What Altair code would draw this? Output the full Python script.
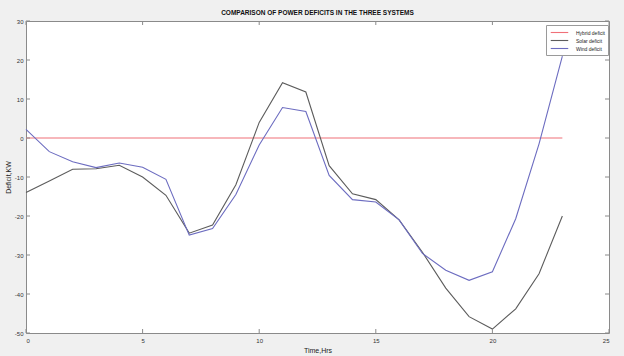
import altair as alt
import pandas as pd

hours = list(range(24))
hybrid = [0] * 24
solar = [-14, -11, -8, -7.9, -7, -10, -14.7, -24.4, -22.3, -12, 4, 14.2, 11.8, -7.1,
         -14.3, -15.8, -21, -29.3, -38.5, -45.8, -49, -43.8, -34.8, -20]
wind = [2.2, -3.5, -6.1, -7.6, -6.4, -7.5, -10.6, -24.9, -23.2, -14.5, -1.8, 7.8, 6.8, -9.6,
        -15.8, -16.4, -21, -29.6, -33.9, -36.5, -34.3, -20.7, -1.5, 21]
series_names = ["Hybrid deficit", "Solar deficit", "Wind deficit"]
series_colors = ["#f07078", "#5c5c5c", "#6c6cc0"]
x_ticks = [0, 5, 10, 15, 20, 25]
y_ticks = [-50, -40, -30, -20, -10, 0, 10, 20, 30]

rows = []
for name, vals in zip(series_names, [hybrid, solar, wind]):
    for h, v in zip(hours, vals):
        rows.append({"hour": h, "value": v, "series": name})
df = pd.DataFrame(rows)

W, H = 583, 312
FONT = "Liberation Sans"

xs = alt.Scale(domain=[0, 25], nice=False)
ys = alt.Scale(domain=[-50, 30], nice=False)

lab = "replace(datum.label, '\u2212', '-')"

x_axis = alt.Axis(values=x_ticks, ticks=False, domain=False, grid=False,
                  labelFontSize=6, labelColor="#333333", labelPadding=4,
                  titleFontSize=7, titleFontWeight="normal", titleColor="#222222",
                  titlePadding=3, labelFont=FONT, titleFont=FONT)
y_axis = alt.Axis(values=y_ticks, ticks=False, domain=False, grid=False,
                  labelOverlap=False, labelExpr=lab,
                  labelFontSize=6, labelColor="#333333", labelPadding=3,
                  titleFontSize=7, titleFontWeight="normal", titleColor="#222222",
                  titlePadding=3, labelFont=FONT, titleFont=FONT)

lines = alt.Chart(df).mark_line(strokeWidth=1.1).encode(
    x=alt.X("hour:Q", scale=xs, title="Time,Hrs", axis=x_axis),
    y=alt.Y("value:Q", scale=ys, title="Deficit,KW", axis=y_axis),
    color=alt.Color("series:N",
                    scale=alt.Scale(domain=series_names, range=series_colors),
                    legend=alt.Legend(orient="none", legendX=520, legendY=4, title=None,
                                      symbolType="M-2.5,0L2.5,0", symbolSize=49,
                                      symbolStrokeWidth=1.1, symbolOffset=6,
                                      labelFontSize=5, labelFont=FONT, labelColor="#222222",
                                      fillColor="white", strokeColor="#9a9a9a", padding=3,
                                      rowPadding=0, labelOffset=12, labelLimit=60)),
)

xt = pd.DataFrame({"t": x_ticks})
yt = pd.DataFrame({"t": y_ticks})
tick_color = "#8a8a8a"
xb = alt.Chart(xt).mark_rule(color=tick_color, strokeWidth=1).encode(
    x=alt.X("t:Q", scale=xs, title="Time,Hrs", axis=x_axis), y=alt.value(H), y2=alt.value(H - 4))
xtop = alt.Chart(xt).mark_rule(color=tick_color, strokeWidth=1).encode(
    x=alt.X("t:Q", scale=xs, title="Time,Hrs", axis=x_axis), y=alt.value(0), y2=alt.value(4))
yl = alt.Chart(yt).mark_rule(color=tick_color, strokeWidth=1).encode(
    y=alt.Y("t:Q", scale=ys, title="Deficit,KW", axis=y_axis), x=alt.value(0), x2=alt.value(4))
yr = alt.Chart(yt).mark_rule(color=tick_color, strokeWidth=1).encode(
    y=alt.Y("t:Q", scale=ys, title="Deficit,KW", axis=y_axis), x=alt.value(W), x2=alt.value(W - 4))

chart = alt.layer(lines, xb, xtop, yl, yr).properties(
    width=W, height=H,
    autosize="none",
    padding={"left": 26, "top": 21, "right": 15, "bottom": 23},
    title=alt.Title("COMPARISON OF POWER DEFICITS IN THE THREE SYSTEMS",
                    fontSize=6.5, font=FONT, fontWeight="bold", color="#111111",
                    anchor="middle", offset=2),
).configure(background="#f0f0f0").configure_view(
    fill="white", stroke="#8a8a8a", strokeWidth=1)

chart.save("out.html", embed_options={"renderer": "svg", "actions": False})
